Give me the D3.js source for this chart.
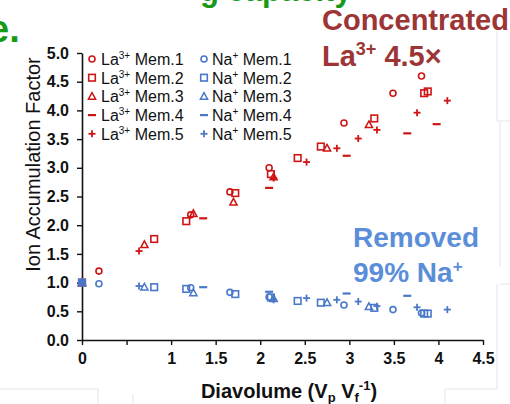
<!DOCTYPE html>
<html>
<head>
<meta charset="utf-8">
<script src="https://cdn.jsdelivr.net/npm/d3@7"></script>
<style>
body { margin: 0; background: #fff; }
svg { display: block; font-family: "Liberation Sans", Arial, sans-serif; }
</style>
</head>
<body>
<div id="chart"></div>
<script>
const W = 510, H = 404;

// diavolume (Vp/Vf) per membrane, with La3+ and Na+ accumulation factors
const dv1 = [0, 0.19, 1.22, 1.66, 2.10, 2.94, 3.49, 3.81];
const la1 = [1.0, 1.20, 2.18, 2.58, 3.00, 3.78, 4.30, 4.60];
const na1 = [1.0, 0.98, 0.91, 0.83, 0.75, 0.61, 0.53, 0.47];

const dv2 = [0, 0.81, 1.17, 1.72, 2.12, 2.42, 2.68, 3.28, 3.84, 3.88];
const la2 = [1.0, 1.76, 2.07, 2.56, 2.89, 3.17, 3.37, 3.86, 4.30, 4.33];
const na2 = [1.0, 0.92, 0.89, 0.80, 0.74, 0.68, 0.65, 0.56, 0.46, 0.46];

const dv3 = [0, 0.70, 1.25, 1.70, 2.15, 2.75, 3.22];
const la3 = [1.0, 1.66, 2.20, 2.40, 2.84, 3.34, 3.75];
const na3 = [1.0, 0.92, 0.82, NaN, 0.72, 0.65, 0.58];

const dv4 = [0, 1.36, 2.10, 2.97, 3.65, 3.98];
const la4 = [1.0, 2.12, 2.65, 3.21, 3.60, 3.76];
const na4 = [1.0, 0.92, 0.84, 0.81, 0.77, NaN];

const dv5 = [0, 0.64, 2.15, 2.52, 2.86, 3.10, 3.31, 3.76, 4.10];
const la5 = [1.0, 1.55, 2.82, 3.10, 3.34, 3.51, 3.66, 3.96, 4.17];
const na5 = [1.0, 0.94, 0.70, 0.73, 0.70, 0.67, 0.59, 0.57, 0.53];

const memNames = ['Mem.1', 'Mem.2', 'Mem.3', 'Mem.4', 'Mem.5'];
const shapes = ['circle', 'square', 'triangle', 'minus', 'plus'];
const xTicks = [0, 0.5, 1, 1.5, 2, 2.5, 3, 3.5, 4, 4.5];
const yTicks = [0, 0.5, 1, 1.5, 2, 2.5, 3, 3.5, 4, 4.5, 5];

const RED = '#cf1414', BLUE = '#4a78c8';

const members = [
    {dv: dv1, la: la1, na: na1},
    {dv: dv2, la: la2, na: na2},
    {dv: dv3, la: la3, na: na3},
    {dv: dv4, la: la4, na: na4},
    {dv: dv5, la: la5, na: na5},
];

const svg = d3.select('#chart').append('svg')
    .attr('width', W)
    .attr('height', H);

// faint slide frame leftovers
const frame = [
    [497, 32, 497, 121], [497, 121, 510, 121], [500, 121, 500, 267],
    [500, 284, 510, 284], [497, 284, 497, 389], [445, 389, 497, 389],
    [445, 389, 445, 404], [0, 389, 98, 389], [98, 389, 98, 404], [133, 394, 133, 404]
];
svg.append('g').selectAll('line').data(frame).enter().append('line')
    .attr('x1', d => d[0]).attr('y1', d => d[1])
    .attr('x2', d => d[2]).attr('y2', d => d[3])
    .attr('stroke', '#e4e4e4').attr('stroke-width', 1);

const x = d3.scaleLinear().domain([0, 4.5]).range([82, 483]);
const y = d3.scaleLinear().domain([0, 5]).range([340, 53]);

// axes
const xAxis = svg.append('g')
    .attr('transform', `translate(0,${y(0)})`)
    .call(d3.axisBottom(x).tickValues(xTicks).tickSize(5).tickSizeOuter(0)
        .tickFormat(d => d === 0.5 ? '' : d3.format('')(d)));

const yAxis = svg.append('g')
    .attr('transform', `translate(${x(0)},0)`)
    .call(d3.axisLeft(y).tickValues(yTicks).tickSize(5).tickSizeOuter(0)
        .tickFormat(d3.format('.1f')));

[xAxis, yAxis].forEach(a => {
    a.select('.domain').attr('stroke', '#111').attr('stroke-width', 1.6);
    a.selectAll('.tick line').attr('stroke', '#111').attr('stroke-width', 1.4);
    a.selectAll('.tick text')
        .attr('fill', '#111')
        .style('font-family', '"Liberation Sans", Arial, sans-serif')
        .style('font-size', '16px')
        .style('font-weight', 'bold');
});
xAxis.selectAll('.tick text').attr('y', 13);
yAxis.selectAll('.tick text').attr('x', -13);

// axis titles
svg.append('text')
    .attr('transform', `translate(40,${(y(0) + y(5)) / 2 - 32}) rotate(-90)`)
    .attr('text-anchor', 'middle')
    .style('font-size', '20px')
    .attr('fill', '#111')
    .text('Ion Accumulation Factor');

const xt = svg.append('text')
    .attr('x', 289).attr('y', 398)
    .attr('text-anchor', 'middle')
    .style('font-size', '20px')
    .style('font-weight', 'bold')
    .attr('fill', '#111');
xt.append('tspan').text('Diavolume (V');
xt.append('tspan').attr('dy', 4).style('font-size', '13px').text('p');
xt.append('tspan').attr('dy', -4).text(' V');
xt.append('tspan').attr('dy', 4).style('font-size', '13px').text('f');
xt.append('tspan').attr('dy', -12).style('font-size', '13px').text('-1');
xt.append('tspan').attr('dy', 8).text(')');

// marker drawing
function marker(g, shape, cx, cy, color) {
    const m = g.append('g').attr('transform', `translate(${cx},${cy})`)
        .attr('fill', 'none').attr('stroke', color);
    if (shape === 'circle') {
        m.append('circle').attr('r', 3).attr('stroke-width', 1.6);
    } else if (shape === 'square') {
        m.append('rect').attr('x', -3.3).attr('y', -3.3).attr('width', 6.6).attr('height', 6.6)
            .attr('stroke-width', 1.6);
    } else if (shape === 'triangle') {
        m.append('path').attr('d', 'M0,-3.8L3.6,2.8L-3.6,2.8Z').attr('stroke-width', 1.5);
    } else if (shape === 'minus') {
        m.append('line').attr('x1', -4).attr('x2', 4).attr('stroke-width', 2.2);
    } else {
        m.append('line').attr('x1', -3.5).attr('x2', 3.5).attr('stroke-width', 1.8);
        m.append('line').attr('y1', -3.5).attr('y2', 3.5).attr('stroke-width', 1.8);
    }
}

const plot = svg.append('g');
members.forEach((s, i) => {
    s.dv.forEach((v, k) => {
        if (!isNaN(s.la[k])) marker(plot, shapes[i], x(v), y(s.la[k]), RED);
    });
});
members.forEach((s, i) => {
    s.dv.forEach((v, k) => {
        if (!isNaN(s.na[k])) marker(plot, shapes[i], x(v), y(s.na[k]), BLUE);
    });
});

// legend
const leg = svg.append('g');
memNames.forEach((name, i) => {
    const ly = 59 + i * 18.7;
    marker(leg, shapes[i], 92, ly, RED);
    marker(leg, shapes[i], 204, ly, BLUE);
    const t1 = leg.append('text').attr('x', 101).attr('y', ly + 6)
        .style('font-size', '16px').attr('fill', '#111');
    t1.append('tspan').text('La');
    t1.append('tspan').attr('dy', -6).style('font-size', '10px').text('3+');
    t1.append('tspan').attr('dy', 6).text(' ' + name);
    const t2 = leg.append('text').attr('x', 212).attr('y', ly + 6)
        .style('font-size', '16px').attr('fill', '#111');
    t2.append('tspan').text('Na');
    t2.append('tspan').attr('dy', -6).style('font-size', '10px').text('+');
    t2.append('tspan').attr('dy', 6).text(' ' + name);
});

// annotations
const GREEN = '#179b17';
svg.append('text').attr('x', 200).attr('y', 1)
    .style('font-size', '31px').style('font-weight', 'bold').attr('fill', GREEN)
    .text('g capacity');
svg.append('text').attr('x', -12).attr('y', 42)
    .style('font-size', '38px').style('font-weight', 'bold').attr('fill', GREEN)
    .text('e.');

const DARKRED = '#9c3535';
svg.append('text').attr('x', 322).attr('y', 30)
    .style('font-size', '29px').style('font-weight', 'bold').attr('fill', DARKRED)
    .text('Concentrated');
const c2 = svg.append('text').attr('x', 322).attr('y', 66)
    .style('font-size', '29px').style('font-weight', 'bold').attr('fill', DARKRED);
c2.append('tspan').text('La');
c2.append('tspan').attr('dy', -11).style('font-size', '18px').text('3+');
c2.append('tspan').attr('dy', 11).text(' 4.5×');

const LBLUE = '#5b8ed8';
svg.append('text').attr('x', 353).attr('y', 247)
    .style('font-size', '28px').style('font-weight', 'bold').attr('fill', LBLUE)
    .text('Removed');
const r2 = svg.append('text').attr('x', 353).attr('y', 282)
    .style('font-size', '28px').style('font-weight', 'bold').attr('fill', LBLUE);
r2.append('tspan').text('99% Na');
r2.append('tspan').attr('dy', -10).style('font-size', '17px').text('+');
</script>
</body>
</html>
